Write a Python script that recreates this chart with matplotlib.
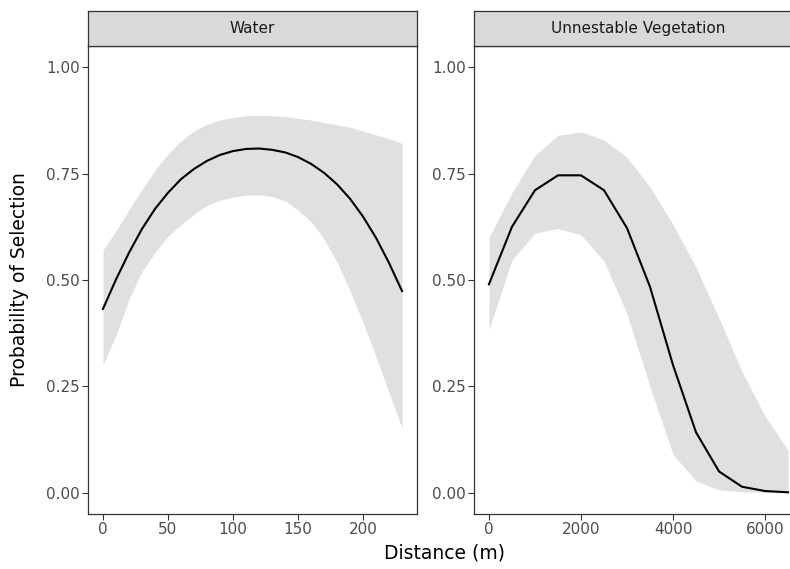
import matplotlib.pyplot as plt

plt.rcParams['font.family'] = ['DejaVu Sans']

# === Data: Water panel ===
water_dist = [0, 10, 20, 30, 40, 50, 60, 70, 80, 90, 100, 110,
              120, 130, 140, 150, 160, 170, 180, 190, 200, 210, 220, 230]
water_prob = [0.432, 0.501, 0.564, 0.620, 0.667, 0.705, 0.737, 0.761,
              0.780, 0.794, 0.803, 0.808, 0.809, 0.806, 0.800, 0.789,
              0.773, 0.752, 0.725, 0.691, 0.649, 0.599, 0.540, 0.474]
water_upper = [0.570, 0.615, 0.665, 0.713, 0.758, 0.796, 0.827, 0.850,
               0.866, 0.876, 0.882, 0.886, 0.887, 0.886, 0.884, 0.880,
               0.876, 0.870, 0.865, 0.859, 0.850, 0.841, 0.832, 0.821]
water_lower = [0.300, 0.370, 0.455, 0.520, 0.565, 0.603, 0.630, 0.655,
               0.675, 0.688, 0.695, 0.699, 0.700, 0.696, 0.686, 0.665,
               0.637, 0.596, 0.542, 0.475, 0.400, 0.320, 0.235, 0.152]

# === Data: Unnestable Vegetation panel ===
veg_dist = [0, 500, 1000, 1500, 2000, 2500, 3000, 3500,
            4000, 4500, 5000, 5500, 6000, 6500]
veg_prob = [0.490, 0.625, 0.711, 0.746, 0.746, 0.711, 0.622, 0.484,
            0.300, 0.142, 0.050, 0.014, 0.004, 0.001]
veg_upper = [0.600, 0.705, 0.793, 0.840, 0.848, 0.829, 0.788, 0.719,
             0.630, 0.530, 0.410, 0.285, 0.180, 0.100]
veg_lower = [0.383, 0.547, 0.610, 0.621, 0.606, 0.545, 0.420, 0.250,
             0.090, 0.028, 0.007, 0.002, 0.001, 0.000]

strip_titles = ["Water", "Unnestable Vegetation"]
y_ticks = [0.00, 0.25, 0.50, 0.75, 1.00]
y_ticklabels = ["0.00", "0.25", "0.50", "0.75", "1.00"]
water_xticks = [0, 50, 100, 150, 200]
veg_xticks = [0, 2000, 4000, 6000]

# === Layout (pixels -> figure fractions) ===
W, H = 790, 569
fig = plt.figure(figsize=(W / 100, H / 100), dpi=100)

def frac(x0, y0, x1, y1):
    return [x0 / W, 1 - y1 / H, (x1 - x0) / W, (y1 - y0) / H]

panels = [
    (frac(88, 46, 417, 514), frac(88, 11, 417, 46)),
    (frac(474, 46, 803, 514), frac(474, 11, 803, 46)),
]
series = [
    (water_dist, water_prob, water_upper, water_lower, water_xticks),
    (veg_dist, veg_prob, veg_upper, veg_lower, veg_xticks),
]

edge = '#333333'
for (rect, srect), (xd, yd, up, lo, xt), title in zip(panels, series, strip_titles):
    ax = fig.add_axes(rect)
    ax.fill_between(xd, lo, up, color='#E0E0E0', linewidth=0)
    ax.plot(xd, yd, color='black', linewidth=1.5)
    span = xd[-1] - xd[0]
    ax.set_xlim(xd[0] - 0.05 * span, xd[-1] + 0.05 * span)
    ax.set_ylim(-0.05, 1.05)
    ax.set_yticks(y_ticks)
    ax.set_yticklabels(y_ticklabels)
    ax.set_xticks(xt)
    ax.tick_params(direction='out', length=4, width=0.8, color=edge,
                   labelsize=11, labelcolor='#4D4D4D', pad=2)
    for s in ax.spines.values():
        s.set_color(edge)
        s.set_linewidth(0.9)

    sax = fig.add_axes(srect)
    sax.set_facecolor('#D9D9D9')
    sax.set_xticks([])
    sax.set_yticks([])
    for s in sax.spines.values():
        s.set_color(edge)
        s.set_linewidth(0.9)
    sax.text(0.5, 0.5, title, ha='center', va='center', fontsize=11,
             color='#1A1A1A', transform=sax.transAxes)

fig.text(445 / W, 1 - 553 / H, "Distance (m)", ha='center', va='center',
         fontsize=13.5, color='black')
fig.text(20 / W, 1 - 280 / H, "Probability of Selection", ha='center',
         va='center', rotation=90, fontsize=13.5, color='black')

fig.savefig("out.png", dpi=100, facecolor='white')
